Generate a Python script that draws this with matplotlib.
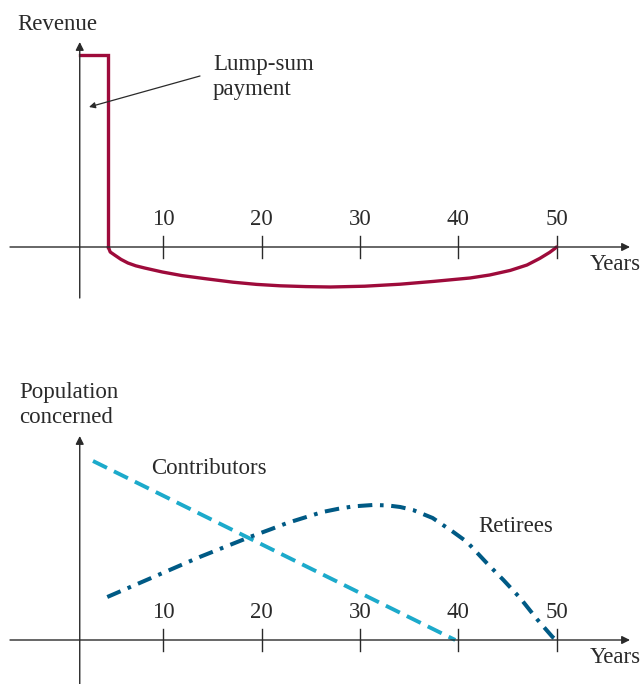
import matplotlib.pyplot as plt
import numpy as np

plt.rcParams['font.family'] = ['Liberation Serif', 'DejaVu Serif']

# ---- data ----
tick_years = [10, 20, 30, 40, 50]

# top panel: revenue
lump_years = [1.5, 4.4, 4.4]
lump_values = [9.6, 9.6, 0.0]
deficit_years = [4.4, 4.6, 5.1, 5.7, 6.4, 7.2, 8.1, 9.9, 11.9, 14.2, 17.1, 19.5, 21.9, 24.5,
                 27.0, 30.5, 34.1, 37.5, 41.2, 43.2, 45.3, 47.0, 48.3, 49.3, 49.85, 50.0]
deficit_values = [0.0, -0.25, -0.42, -0.62, -0.8, -0.94, -1.05, -1.25, -1.43, -1.58, -1.76, -1.87,
                  -1.94, -1.98, -2.0, -1.96, -1.86, -1.72, -1.55, -1.4, -1.17, -0.9, -0.57,
                  -0.27, -0.07, 0.0]

# bottom panel: population
contrib_years = [2.85, 39.7]
contrib_values = [8.95, 0.0]
retiree_years = [4.3, 9.0, 13.7, 18.8, 21.0, 22.6, 23.9, 26.2, 27.8, 29.3, 31.3, 32.8, 34.1,
                 35.4, 37.4, 39.5, 40.9, 42.9, 44.6, 46.3, 48.0, 49.6, 50.0]
retiree_values = [2.15, 3.15, 4.15, 5.15, 5.55, 5.85, 6.05, 6.4, 6.56, 6.68, 6.75, 6.73, 6.65,
                  6.5, 6.1, 5.4, 4.9, 3.85, 3.0, 2.1, 1.05, 0.15, 0.0]

RED = '#9E0B3B'
LIGHT = '#1CAACB'
DARK = '#005A85'
AX = '#2a2a2a'
TXT = '#2a2a2a'
FS = 16.5

W, H = 641, 684
fig = plt.figure(figsize=(W / 100, H / 100), dpi=100)

# pixel mapping: x_px = 65 + 9.83*year ; y_px = base - 20*value
def px_to_year(px):
    return (px - 65) / 9.83

def make_axes(top_px, bot_px, base_px):
    ax = fig.add_axes([0, 1 - bot_px / H, 1, (bot_px - top_px) / H])
    ax.set_xlim(px_to_year(0), px_to_year(W))
    ax.set_ylim((base_px - bot_px) / 20, (base_px - top_px) / 20)
    ax.axis('off')
    return ax

def draw_frame(ax, y_top, y_bot, label_y):
    # x axis with arrow
    ax.annotate('', xy=(px_to_year(630), 0), xytext=(px_to_year(10), 0),
                arrowprops=dict(arrowstyle='-|>', color=AX, lw=1.0,
                                mutation_scale=12, shrinkA=0, shrinkB=0))
    # y axis with arrow
    ax.annotate('', xy=(1.5, y_top), xytext=(1.5, y_bot),
                arrowprops=dict(arrowstyle='-|>', color=AX, lw=1.0,
                                mutation_scale=12, shrinkA=0, shrinkB=0))
    for t in tick_years:
        ax.plot([t, t], [-0.55, 0.55], color=AX, lw=1.0)
        ax.text(t, label_y, str(t), ha='center', va='bottom', fontsize=FS, color=TXT)
    ax.text(px_to_year(590), -0.35, 'Years', ha='left', va='top', fontsize=FS, color=TXT)

# ---- top panel ----
ax1 = make_axes(0, 320, 247)
draw_frame(ax1, (247 - 42) / 20, (247 - 298) / 20, 0.85)
ax1.plot(lump_years, lump_values, color=RED, lw=2.4, solid_joinstyle='miter')
ax1.plot(deficit_years, deficit_values, color=RED, lw=2.4, solid_capstyle='round',
         solid_joinstyle='round')
ax1.text(px_to_year(17), (247 - 25) / 20, 'Revenue', ha='left', va='center', fontsize=FS, color=TXT)
ax1.text(px_to_year(213), (247 - 77) / 20, 'Lump-sum\npayment', ha='left', va='center',
         fontsize=FS, color=TXT, linespacing=1.3)
ax1.annotate('', xy=(px_to_year(89), (247 - 107) / 20), xytext=(px_to_year(200), (247 - 76) / 20),
             arrowprops=dict(arrowstyle='-|>', color=AX, lw=0.9, mutation_scale=9,
                             shrinkA=0, shrinkB=0))

# ---- bottom panel ----
ax2 = make_axes(340, H, 640)
draw_frame(ax2, (640 - 436) / 20, (640 - 690) / 20, 0.85)
ax2.plot(contrib_years, contrib_values, color=LIGHT, lw=2.8, dashes=(4.0, 2.0))
ax2.plot(retiree_years, retiree_values, color=DARK, lw=2.9, dashes=(3.6, 1.9, 0.9, 1.9))
ax2.text(px_to_year(19), (640 - 405) / 20, 'Population\nconcerned', ha='left', va='center',
         fontsize=FS, color=TXT, linespacing=1.25)
ax2.text(px_to_year(151), (640 - 468) / 20, 'Contributors', ha='left', va='center',
         fontsize=FS, color=TXT)
ax2.text(px_to_year(478), (640 - 527) / 20, 'Retirees', ha='left', va='center',
         fontsize=FS, color=TXT)

fig.savefig('out.png', dpi=100)
